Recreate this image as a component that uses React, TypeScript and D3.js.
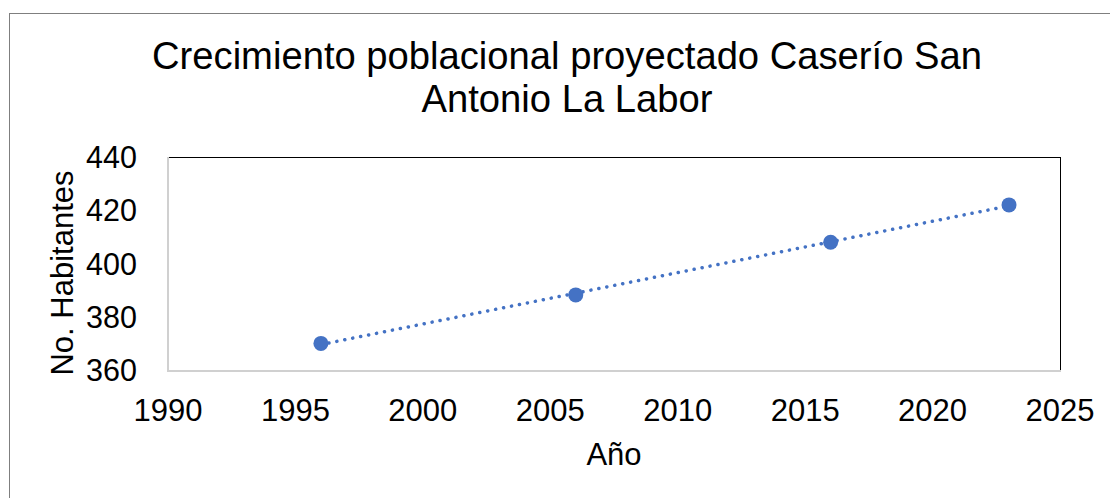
import React from "react";
import * as d3 from "d3";

const years = [1996, 2006, 2016, 2023];
const habitantes = [370, 388.2, 408, 422];
const xTicks = [1990, 1995, 2000, 2005, 2010, 2015, 2020, 2025];
const yTicks = [360, 380, 400, 420, 440];
const titleLines = ["Crecimiento poblacional proyectado Caserío San", "Antonio La Labor"];
const xTitle = "Año";
const yTitle = "No. Habitantes";

const W = 1110;
const H = 498;
const FONT = "'Liberation Sans', Arial, sans-serif";

export default function App() {
  const left = 168, right = 1060, top = 157, bottom = 370;
  const x = d3.scaleLinear().domain([1990, 2025]).range([left, right]);
  const y = d3.scaleLinear().domain([360, 440]).range([bottom, top]);

  // linear trend line
  const mx = d3.mean(years)!;
  const my = d3.mean(habitantes)!;
  let num = 0, den = 0;
  years.forEach((yr, i) => {
    num += (yr - mx) * (habitantes[i] - my);
    den += (yr - mx) * (yr - mx);
  });
  const slope = num / den;
  const icpt = my - slope * mx;
  const x0 = years[0], x1 = years[years.length - 1];
  const trend: [number, number][] = [
    [x0, icpt + slope * x0],
    [x1, icpt + slope * x1],
  ];
  const line = d3.line<[number, number]>().x(d => x(d[0])).y(d => y(d[1]));

  return (
    <svg width={W} height={H} style={{ position: "absolute", left: 0, top: 0, background: "#fff" }} fontFamily={FONT}>
      <rect x={0} y={0} width={W} height={H} fill="#fff" />
      <rect x={9.5} y={13.5} width={1116} height={500} fill="none" stroke="#7f7f7f" strokeWidth={1} />
      {titleLines.map((t, i) => (
        <text key={i} x={567} y={69 + i * 43} textAnchor="middle" fontSize={38.2} fill="#000">{t}</text>
      ))}
      {/* plot frame */}
      <line x1={left} y1={top + 0.5} x2={right} y2={top + 0.5} stroke="#000" strokeWidth={1} />
      <line x1={right + 0.5} y1={top} x2={right + 0.5} y2={bottom} stroke="#000" strokeWidth={1} />
      <line x1={left} y1={top} x2={left} y2={bottom + 1} stroke="#d0d0d0" strokeWidth={2} />
      <line x1={left - 1} y1={bottom + 1} x2={right + 1} y2={bottom + 1} stroke="#d0d0d0" strokeWidth={2} />
      {yTicks.map(v => (
        <text key={v} x={137} y={y(v) + 11} textAnchor="end" fontSize={30.5} fill="#000">{v}</text>
      ))}
      {xTicks.map(v => (
        <text key={v} x={x(v)} y={421} textAnchor="middle" fontSize={31} fill="#000">{v}</text>
      ))}
      <text x={614} y={465} textAnchor="middle" fontSize={31} fill="#000">{xTitle}</text>
      <text transform={`translate(73,${273}) rotate(-90)`} textAnchor="middle" fontSize={31} fill="#000">{yTitle}</text>
      <path d={line(trend) || ""} fill="none" stroke="#4472C4" strokeWidth={3.5} strokeLinecap="round" strokeDasharray="0.1 8" />
      {years.map((yr, i) => (
        <circle key={yr} cx={x(yr)} cy={y(habitantes[i])} r={7.5} fill="#4472C4" />
      ))}
    </svg>
  );
}
